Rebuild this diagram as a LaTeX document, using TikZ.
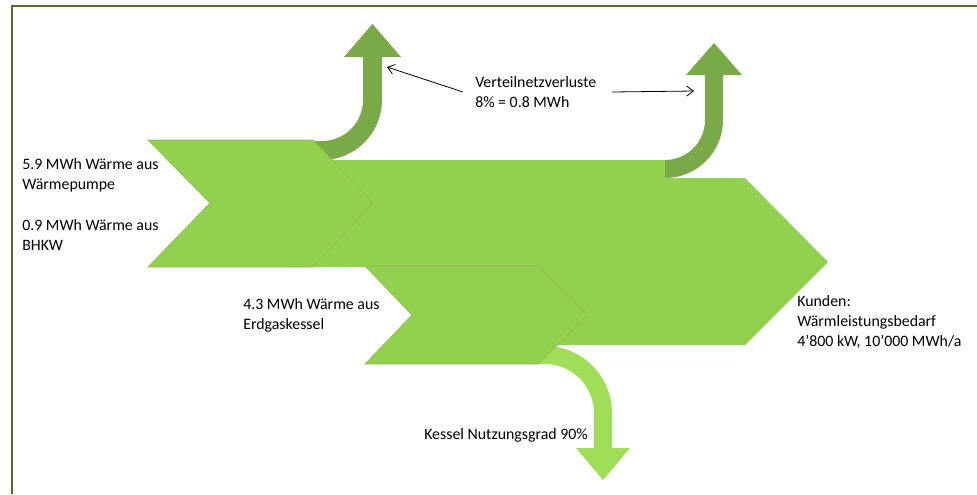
\documentclass[tikz,border=0pt]{standalone}
\usepackage{fontspec}
\setmainfont{Carlito}
\usetikzlibrary{arrows.meta}

\definecolor{flowgreen}{RGB}{146,208,80}
\definecolor{lossgreen}{RGB}{122,170,72}
\definecolor{kesselgreen}{RGB}{160,222,88}
\definecolor{edgegreen}{RGB}{150,185,85}
\definecolor{framegreen}{RGB}{85,110,45}

\begin{document}
\begin{tikzpicture}[x=0.75pt,y=-0.75pt,
	flow/.style={fill=flowgreen,draw=edgegreen,line width=0.5pt,line join=miter},
	loss/.style={fill=lossgreen},
	lbl/.style={font=\fontsize{11.9}{15}\selectfont,align=left,inner sep=0pt,anchor=west},
	note/.style={-{Straight Barb[length=5pt,width=7.5pt]},line width=0.6pt}]
\useasboundingbox (0,0) rectangle (977,494);
\fill[white] (0,0) rectangle (977,494);
\draw[framegreen,line width=1.3pt] (12,494) -- (12,6) -- (977,6);

% losses in the net, first branch
\fill[loss] (300,141) -- (322,141) arc[start angle=90,end angle=0,radius=41]
	-- (363,57) -- (344,57) -- (372.5,24) -- (401,57) -- (382,57) -- (382,100)
	arc[start angle=0,end angle=90,radius=60] -- (300,160) -- cycle;
% main flow to the customers
\fill[flowgreen] (287,267) -- (320,160) -- (665,160) -- (665,178) -- (745,178)
	-- (828,262) -- (745,345) -- (470,345) -- (420,267) -- cycle;
% losses in the net, second branch
\fill[loss] (665,160) arc[start angle=90,end angle=0,radius=40]
	-- (705,75) -- (686,75) -- (714,43) -- (742,75) -- (723,75) -- (723,120)
	arc[start angle=0,end angle=90,radius=58] -- cycle;
% heat pump and CHP
\draw[flow] (148,140) -- (313,140) -- (373,203) -- (313,267) -- (148,267) -- (210,203) -- cycle;
% boiler losses
\fill[kesselgreen] (530,346) -- (545,346) arc[start angle=-90,end angle=0,radius=67]
	-- (612,448) -- (630,448) -- (603,480) -- (576,448) -- (594,448) -- (594,413)
	arc[start angle=0,end angle=-90,radius=49] -- (530,364) -- cycle;
% gas boiler
\draw[flow] (365,266) -- (538,266) -- (588,315) -- (538,364) -- (365,364) -- (412,315) -- cycle;

\node[lbl] (wp) at (22,175) {5.9 MWh Wärme aus\\Wärmepumpe};
\node[lbl] (bhkw) at (22,235) {0.9 MWh Wärme aus\\BHKW};
\node[lbl] (gas) at (243,315) {4.3 MWh Wärme aus\\Erdgaskessel};
\node[lbl] (verl) at (475,92) {Verteilnetzverluste\\8\% = 0.8 MWh};
\node[lbl] (kunden) at (797,322) {Kunden:\\Wärmleistungsbedarf\\4’800 kW, 10’000 MWh/a};
\node[lbl] (kessel) at (424,435) {Kessel Nutzungsgrad 90\%};

\coordinate (v1) at (463,92);
\coordinate (v1end) at (387,67);
\coordinate (v2) at (612,92);
\coordinate (v2end) at (694,91);
\draw[note] (v1) -- (v1end);
\draw[note] (v2) -- (v2end);
\end{tikzpicture}
\end{document}
